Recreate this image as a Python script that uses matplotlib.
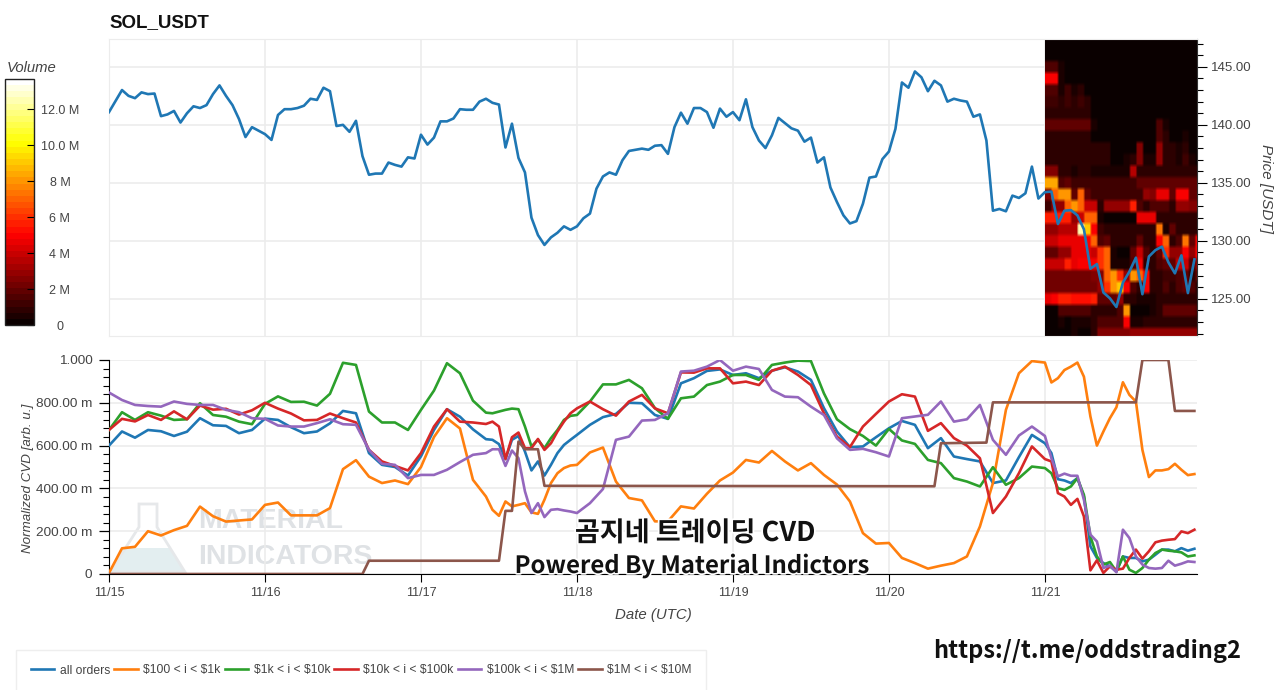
import numpy as np
import matplotlib
matplotlib.use('Agg')
import matplotlib.pyplot as plt
import matplotlib.patheffects as pe
from matplotlib.cm import ScalarMappable
from matplotlib.colors import Normalize
from matplotlib.lines import Line2D
from matplotlib.patches import Polygon
from matplotlib.ticker import FixedLocator, FixedFormatter, MultipleLocator

plt.rcParams['font.family'] = ['Liberation Sans', 'Noto Sans CJK KR', 'DejaVu Sans']

W, H = 1280, 690

# hourly close, starts 11/15 00:00
price = [
    141.1, 142.05, 143.0, 142.5, 142.3, 142.8, 142.65, 142.7, 140.75, 140.9, 141.2, 140.2,
    141.0, 141.6, 141.45, 141.7, 142.65, 143.4, 142.5, 141.7, 140.5, 138.95, 139.8, 139.5,
    139.2, 138.7, 140.85, 141.35, 141.35, 141.45, 141.65, 142.25, 142.15, 143.2, 142.9, 139.9,
    140.0, 139.4, 140.35, 137.3, 135.7, 135.8, 135.8, 136.75, 136.55, 136.4, 137.2, 137.1,
    139.15, 138.3, 138.9, 140.3, 140.3, 140.55, 141.35, 141.3, 141.3, 142.0, 142.25, 141.9,
    141.75, 138.05, 140.1, 137.15, 135.9, 132.0, 130.5, 129.65, 130.3, 130.7, 131.25, 130.95,
    131.25, 131.95, 132.35, 134.5, 135.55, 135.9, 135.7, 136.95, 137.75, 137.85, 137.95, 137.85,
    138.2, 138.25, 137.5, 139.8, 141.05, 140.1, 141.45, 141.45, 141.1, 139.75, 141.4, 140.7,
    141.1, 140.4, 142.2, 139.8, 138.65, 138.0, 139.1, 140.6, 140.15, 139.7, 139.5, 138.55,
    138.9, 136.75, 137.2, 134.6, 133.35, 132.2, 131.5, 131.7, 133.2, 135.45, 135.55, 137.05,
    137.7, 139.65, 143.65, 143.2, 144.6, 144.1, 142.9, 143.8, 143.4, 142.0, 142.25, 142.1,
    142.0, 140.7, 140.9, 138.65, 132.6, 132.75, 132.55, 133.9, 133.7, 134.1, 136.4, 133.65,
    134.2, 134.25, 131.45, 132.6, 132.65, 132.2, 131.0, 127.6, 128.0, 125.55, 125.05, 124.3,
    126.4, 127.35, 128.55, 125.4, 128.65, 129.2, 129.5, 128.15, 127.2, 128.75, 125.5, 128.4,
]

# volume per price bin in millions, rows 147 down to 122, columns 11/21 00:00 onward
volume = [
    [.1, .1, .1, .1, .1, .1, 0, 0, 0, 0, 0, 0, 0, 0, 0, 0, 0, 0, 0, 0, 0, 0, 0, 0],
    [.2, .2, .1, .1, .1, .1, .1, 0, 0, 0, 0, 0, 0, 0, 0, 0, 0, 0, 0, 0, 0, 0, 0, 0],
    [1.5, 1.5, .5, .3, .2, .1, .1, 0, 0, 0, 0, 0, 0, 0, 0, 0, 0, 0, 0, 0, 0, 0, 0, 0],
    [5, 5, .5, .3, .3, .2, .1, .1, 0, 0, 0, 0, 0, 0, 0, 0, 0, 0, 0, 0, 0, 0, 0, 0],
    [1.5, 1.5, .5, 1.2, .5, 1, .3, .1, 0, 0, 0, 0, 0, 0, 0, 0, 0, 0, 0, 0, 0, 0, 0, 0],
    [1.2, 1.2, .7, 1.2, .7, 1.2, .7, .2, 0, 0, 0, 0, 0, 0, 0, 0, 0, 0, 0, 0, 0, 0, 0, 0],
    [1, 1, 1, 1, 1, 1, 1, .3, 0, 0, 0, 0, 0, 0, 0, 0, 0, .3, .2, 0, 0, 0, 0, 0],
    [1.8, 1.8, 1.8, 1.8, 1.8, 1.8, 1.8, .5, 0, 0, 0, 0, 0, 0, 0, 0, 0, 1.5, .6, .1, 0, 0, 0, 0],
    [1, 1, 1, 1, 1, 1, 1, .3, .1, .1, 0, 0, 0, 0, .2, 0, 0, 1.5, 1, .2, .1, .6, .1, 0],
    [.9, .9, .9, .8, .8, .8, .8, .8, 1, 1, .1, .1, .2, .3, 2.5, .2, .2, 3, .8, 1, .4, .8, .3, .2],
    [.8, .8, .8, .8, .8, .8, .8, .8, .8, .8, .3, .3, .4, .8, 2.5, .5, .6, 2.8, 1, 1, .6, 1.2, .5, .3],
    [2.5, 2.5, .8, .8, .6, .7, .8, .5, .6, .6, .5, .5, .6, 3.5, .8, .7, 1, 1, 1, 1, 1, 1, 1, 1],
    [8.5, 8.5, 1.5, 2, 1.2, 1.2, 1.2, 1.2, 1.2, 1.2, 1.2, 1.2, 1.2, 1.2, 1.8, 1.8, 1.8, 1.8, 1.8, 1.8, 1.8, 1.8, 1.8, 1.8],
    [2.5, 7, 8, 8, 2, 7, 2, 1.2, 1.2, 1.2, 1.2, 1.2, 1.2, 1.2, 1.2, 3, 2.5, 4.5, 4.5, 2, 5, 5, 2, 2],
    [1.2, 3, 3, 7, 8, 7, 4, 4, 1, 3, 3, 3, 3, 5.5, 1.5, 1, 1.5, 1.5, 1.5, 1, 3, 3, 2.5, 2.5],
    [5.5, 5.5, 5.5, 5.5, 3, 4, 7, 7, .5, .3, .3, .3, .3, .3, 4.5, 4.5, 4.5, 1, .7, .7, .7, .7, .7, .7],
    [3, 3, 3.5, 3.5, 3.5, 12.5, 9, 5, 1.2, .7, .7, .7, .7, .7, .7, .8, .8, 7.5, .6, 2, 1, 1, 1, 1],
    [4, 4, 4.5, 4.5, 4.5, 4.5, 5, 7, 1.5, 2, 1, 1, 1, 1, 2, 1, 1, 5, 7, 1, 1.5, 7.5, 2, 5],
    [2, 2, 3, 3, 4.5, 4.5, 4.5, 4, 6, 7, .5, .3, .3, 2, 4, 1.5, .8, 2, 6, 3, 3, 5, 3, 5],
    [4, 4, 4, 5.5, 4.5, 5, 5, 5, 6, 7, .5, .5, .5, 1.5, 5, 1, .8, 1.5, 2, 2, 4, 4, 1.5, 3],
    [2.2, 2.2, 2.2, 2.2, 2.2, 2.2, 2.2, 2.5, 2.5, 7, 8, 6, 3, 8, 7, 5, 1, 1, 1.2, 1.2, 1.5, 2, 1, 2],
    [2.2, 2.2, 2.2, 2.2, 2.2, 2.2, 2.2, 2.3, 3, 6, 8, 9, 5, 1.5, 1, 5, 1, 1, 1.5, 1, 1.5, 2, 1.5, 1],
    [4.5, 5, 5.5, 5.5, 5.2, 5.2, 5.2, 5.5, 2, 2, 2, 3, 1, 1, .5, .5, .5, .7, .8, .8, .8, .8, .8, .8],
    [.2, .2, 1.5, 1.5, 1.5, 1.5, 1.5, .8, .8, .8, 1, 1.5, 8, .2, .2, .2, .5, 1, 2, 2, 2, 2, 2, 1.5],
    [.1, .1, .5, .3, .5, .5, .5, 1, 1.5, 1.5, 1.5, 1.5, 5, .4, .4, .7, .7, 1, .8, .8, .8, .8, .8, .8],
    [.3, .3, .2, .2, .4, .2, .2, 1, 2.5, 2.5, 2.5, 2.5, 2.5, 2.8, 2.8, 2.8, 2.8, 2.8, 2.8, 2.8, 2.8, 2.8, 2.8, 2.8],
]

cvd_hours = list(range(0, 58, 2)) + list(range(58, 72)) + list(range(72, 144, 2)) + list(range(144, 168))

cvd_all = [
    .60, .666, .637, .673, .667, .645, .665, .728, .695, .692, .658, .673, .726, .72, .686, .658, .666, .704, .762, .751, .565, .51, .50, .46, .55, .673, .77, .735, .676,
    .63, .627, .607, .537, .627, .645, .572, .484, .526, .46, .51, .565, .603, .627,
    .65, .697, .733, .748, .80, .798, .743, .725, .891, .915, .949, .956, .93, .938, .915, .95, .966, .946, .907, .775, .666,
    .593, .596, .639, .681, .715, .697, .588, .635, .549, .537, .526, .425, .437, .546, .65,
    .611, .565, .443, .437, .425, .448, .362, .129, .075, .051, .036, .012, .082, .075, .075, .059, .067, .09, .114, .114, .106, .121, .109, .118,
]
cvd_100_1k = [
    .005, .12, .127, .2, .18, .205, .225, .315, .27, .245, .25, .255, .323, .334, .274, .274, .274, .308, .49, .532, .455, .425, .437, .42, .50, .64, .728, .68, .44,
    .362, .30, .272, .339, .316, .323, .331, .288, .281, .347, .425, .471, .495, .507,
    .51, .568, .591, .432, .355, .344, .246, .246, .316, .306, .375, .437, .474, .533, .521, .575, .526, .484, .518, .463, .418,
    .339, .191, .142, .145, .075, .051, .025, .039, .051, .082, .222, .425, .767, .938, .995,
    .988, .895, .915, .953, .969, .988, .922, .736, .60, .666, .728, .779, .896, .837, .806, .58, .453, .484, .484, .49, .515, .487, .462, .467,
]
cvd_1k_10k = [
    .673, .756, .72, .756, .74, .72, .723, .798, .743, .735, .712, .70, .795, .83, .804, .805, .787, .842, .987, .977, .759, .708, .708, .673, .767, .857, .985, .938, .81,
    .754, .751, .759, .767, .773, .77, .689, .596, .627, .588, .635, .673, .72, .739,
    .743, .806, .886, .886, .907, .868, .775, .725, .821, .829, .883, .899, .93, .93, .907, .977, .988, .997, .995, .844, .723,
    .677, .645, .60, .678, .624, .608, .533, .518, .448, .432, .409, .499, .417, .448, .502,
    .495, .471, .401, .393, .409, .448, .37, .176, .082, .044, .056, .012, .082, .02, .005, .028, .067, .098, .114, .109, .106, .101, .082, .087,
]
cvd_10k_100k = [
    .673, .725, .713, .743, .72, .76, .723, .787, .768, .772, .745, .765, .80, .773, .75, .718, .72, .75, .728, .708, .58, .526, .505, .484, .565, .689, .77, .712, .708,
    .701, .712, .689, .537, .639, .661, .588, .588, .631, .58, .611, .666, .712, .751,
    .774, .806, .77, .74, .806, .837, .774, .751, .942, .941, .961, .961, .891, .899, .883, .95, .969, .93, .883, .751, .642,
    .593, .689, .748, .806, .84, .829, .669, .705, .635, .60, .541, .285, .362, .471, .596,
    .537, .526, .378, .362, .323, .351, .269, .017, .064, .005, .036, .02, .025, .075, .114, .072, .106, .148, .156, .16, .163, .199, .191, .207,
]
cvd_100k_1m = [
    .848, .813, .79, .785, .782, .806, .795, .79, .79, .767, .756, .728, .725, .694, .689, .689, .705, .723, .70, .697, .58, .515, .51, .448, .463, .463, .487, .523, .557,
    .565, .583, .583, .505, .577, .541, .386, .285, .331, .266, .30, .303, .297, .292,
    .285, .331, .397, .627, .642, .717, .72, .751, .946, .95, .969, 1.0, .95, .969, .958, .86, .829, .826, .782, .743, .634,
    .58, .585, .569, .549, .728, .736, .744, .806, .712, .723, .79, .627, .557, .647, .689,
    .645, .541, .456, .469, .459, .459, .347, .184, .152, .028, .039, .008, .207, .168, .082, .044, .028, .025, .028, .062, .039, .048, .059, .056,
]
# stepwise series, only the corners
step_hours = [0, 39, 40, 60, 61, 62, 63, 64, 66, 67, 127, 128, 135, 136, 158, 159, 163, 164, 167]
cvd_1m_10m = [0, 0, .062, .062, .295, .295, .619, .583, .583, .412, .41, .611, .614, .802, .802, 1.0, 1.0, .762, .762]

series_labels = ['all orders', r'\$100 < i < \$1k', r'\$1k < i < \$10k', r'\$10k < i < \$100k', r'\$100k < i < \$1M', r'\$1M < i < \$10M']
series_colors = ['#1f77b4', '#ff7f0e', '#2ca02c', '#d62728', '#9467bd', '#8c564b']

day_ticks = [0, 24, 48, 72, 96, 120, 144]
day_labels = ['11/15', '11/16', '11/17', '11/18', '11/19', '11/20', '11/21']
price_ticks = [125, 130, 135, 140, 145]
cvd_ticks = [0, .2, .4, .6, .8, 1.0]
cvd_tick_labels = ['0', '200.00 m', '400.00 m', '600.00 m', '800.00 m', '1.000']
vol_ticks = [0, 2, 4, 6, 8, 10, 12]
vol_tick_labels = ['0', '2 M', '4 M', '6 M', '8 M', '10.0 M', '12.0 M']

GRID = '#ececec'
TXT = '#444444'
XMAX = 167.4


def axes_px(left, top, right, bottom, **kw):
    return fig.add_axes([left / W, 1 - bottom / H, (right - left) / W, (bottom - top) / H], **kw)


fig = plt.figure(figsize=(W / 100, H / 100), dpi=100)

# watermark goes under the lower panel
under = axes_px(0, 0, W, H, zorder=-1)
under.set_xlim(0, W)
under.set_ylim(H, 0)
under.axis('off')
flask = [(139, 504), (157, 504), (157, 527), (185, 572), (110, 572), (139, 527)]
liquid = [(125, 548), (170, 548), (185, 572), (110, 572)]
under.add_patch(Polygon(liquid, closed=True, fc='#e3eef0', ec='none'))
under.add_patch(Polygon(flask, closed=True, fc='none', ec='#e6e8ea', lw=2))
under.text(198, 521, 'MATERIAL', fontsize=20.5, fontweight='bold', color='#dfe2e5', va='center', ha='left')
under.text(198, 557, 'INDICATORS', fontsize=20.5, fontweight='bold', color='#dfe2e5', va='center', ha='left')

# price panel
ax_price = axes_px(109, 39, 1197, 336)
# repeat cells so bilinear only softens the block edges like the blurry screenshot
ax_price.imshow(np.kron(np.array(volume), np.ones((3, 3))), cmap=plt.get_cmap('hot', 40), vmin=0, vmax=13.67, aspect='auto',
                extent=(144, 168, 121.5, 147.5), origin='upper', interpolation='bilinear', zorder=1)
ax_price.plot(range(len(price)), price, color='#1f77b4', lw=1.9, zorder=3)
ax_price.set_xlim(0, XMAX)
ax_price.set_ylim(121.8, 147.4)
ax_price.set_xticks(day_ticks)
ax_price.tick_params(axis='x', length=0, labelbottom=False)
ax_price.yaxis.tick_right()
ax_price.yaxis.set_major_locator(FixedLocator(price_ticks))
ax_price.yaxis.set_major_formatter(FixedFormatter(['%.2f' % p for p in price_ticks]))
ax_price.yaxis.set_minor_locator(MultipleLocator(1))
ax_price.tick_params(axis='y', which='major', length=7, width=.8, labelsize=9.5, labelcolor=TXT, pad=3)
ax_price.tick_params(axis='y', which='minor', length=4, width=.8)
ax_price.grid(True, color=GRID, lw=1.2, zorder=0)
ax_price.set_axisbelow(True)
for side in ['left', 'top', 'bottom']:
    ax_price.spines[side].set_color(GRID)
ax_price.spines['right'].set_color('#333333')
ax_price.spines['right'].set_linewidth(.8)
fig.text(109 / W, 1 - 23 / H, 'SOL_USDT', fontsize=13.5, fontweight='bold', color='#111111', va='center')
fig.text(1266 / W, 1 - 189 / H, 'Price [USDT]', fontsize=11, style='italic', color=TXT,
         rotation=270, va='center', ha='center')

# cvd panel
ax_cvd = axes_px(109, 360, 1197, 574, facecolor='none')
ax_cvd.plot(cvd_hours, cvd_all, color=series_colors[0], lw=1.9, zorder=3)
ax_cvd.plot(cvd_hours, cvd_100_1k, color=series_colors[1], lw=1.9, zorder=3)
ax_cvd.plot(cvd_hours, cvd_1k_10k, color=series_colors[2], lw=1.9, zorder=3)
ax_cvd.plot(cvd_hours, cvd_10k_100k, color=series_colors[3], lw=1.9, zorder=3)
ax_cvd.plot(cvd_hours, cvd_100k_1m, color=series_colors[4], lw=1.9, zorder=3)
ax_cvd.plot(step_hours, cvd_1m_10m, color=series_colors[5], lw=1.9, zorder=3)
ax_cvd.set_xlim(0, XMAX)
ax_cvd.set_ylim(0, 1.0)
ax_cvd.set_xticks(day_ticks, day_labels)
ax_cvd.yaxis.set_major_locator(FixedLocator(cvd_ticks))
ax_cvd.yaxis.set_major_formatter(FixedFormatter(cvd_tick_labels))
ax_cvd.yaxis.set_minor_locator(MultipleLocator(.04))
ax_cvd.tick_params(axis='x', which='major', length=6, width=.8, labelsize=9, labelcolor=TXT, pad=3)
ax_cvd.tick_params(axis='y', which='major', length=7, width=.9, labelsize=9.7, labelcolor=TXT, pad=5)
ax_cvd.tick_params(axis='y', which='minor', length=4, width=.8)
ax_cvd.grid(True, color=GRID, lw=1.2, zorder=0)
ax_cvd.set_axisbelow(True)
ax_cvd.spines['top'].set_visible(False)
ax_cvd.spines['right'].set_visible(False)
fig.text(28 / W, 1 - 478 / H, 'Normalized CVD [arb. u.]', fontsize=9.6, style='italic', color=TXT,
         rotation=90, va='center', ha='center')
fig.text(653 / W, 1 - 615 / H, 'Date (UTC)', fontsize=10.8, style='italic', color=TXT, va='center', ha='center')

# volume colorbar
cax = axes_px(5, 79, 34, 325)
cbar = fig.colorbar(ScalarMappable(Normalize(0, 13.67), plt.get_cmap('hot', 40)), cax=cax)
cbar.set_ticks(vol_ticks, labels=vol_tick_labels)
cbar.minorticks_off()
cbar.outline.set_edgecolor('#222222')
cbar.outline.set_linewidth(1)
cax.tick_params(axis='y', direction='in', length=5, width=.8, labelsize=9, labelcolor=TXT, pad=0)
cax.yaxis.tick_right()
for lab in cax.get_yticklabels():
    lab.set_ha('center')
    lab.set_x(1.72)
    lab.set_transform(lab.get_transform() + matplotlib.transforms.ScaledTranslation(5 / 100, 0, fig.dpi_scale_trans))
fig.text(7 / W, 1 - 68 / H, 'Volume', fontsize=10.7, style='italic', color=TXT, va='center', ha='left')

# legend box runs off the bottom of the screenshot
handles = [Line2D([], [], color=c, lw=1.9) for c in series_colors]
legend = fig.legend(handles, series_labels, ncol=6, loc='upper left',
                    bbox_to_anchor=(16 / W, 1 - 650 / H), borderaxespad=0, frameon=True, fancybox=False,
                    fontsize=8.7, handlelength=1.95, handletextpad=.45, columnspacing=.35,
                    borderpad=1.2, labelcolor=TXT, edgecolor='#eeeeee', framealpha=1)
legend.get_frame().set_linewidth(1)

# captions pasted over the chart
top = axes_px(0, 0, W, H, facecolor='none', zorder=10)
top.set_xlim(0, W)
top.set_ylim(H, 0)
top.axis('off')
halo = [pe.withStroke(linewidth=2.5, foreground='white')]
top.text(695, 533, '곰지네 트레이딩 CVD', fontsize=19.5, fontweight='bold', color='#111111',
         family=['Noto Sans CJK KR', 'DejaVu Sans'], ha='center', va='center', path_effects=halo)
top.text(692, 566, 'Powered By Material Indictors', fontsize=17.2, fontweight='bold', color='#111111',
         family=['Noto Sans CJK KR', 'DejaVu Sans'], ha='center', va='center', path_effects=halo)
top.text(1087, 651, 'https://t.me/oddstrading2', fontsize=17, fontweight='bold', color='#111111',
         family=['Noto Sans CJK KR', 'DejaVu Sans'], ha='center', va='center')

fig.savefig('out.png', dpi=100)
